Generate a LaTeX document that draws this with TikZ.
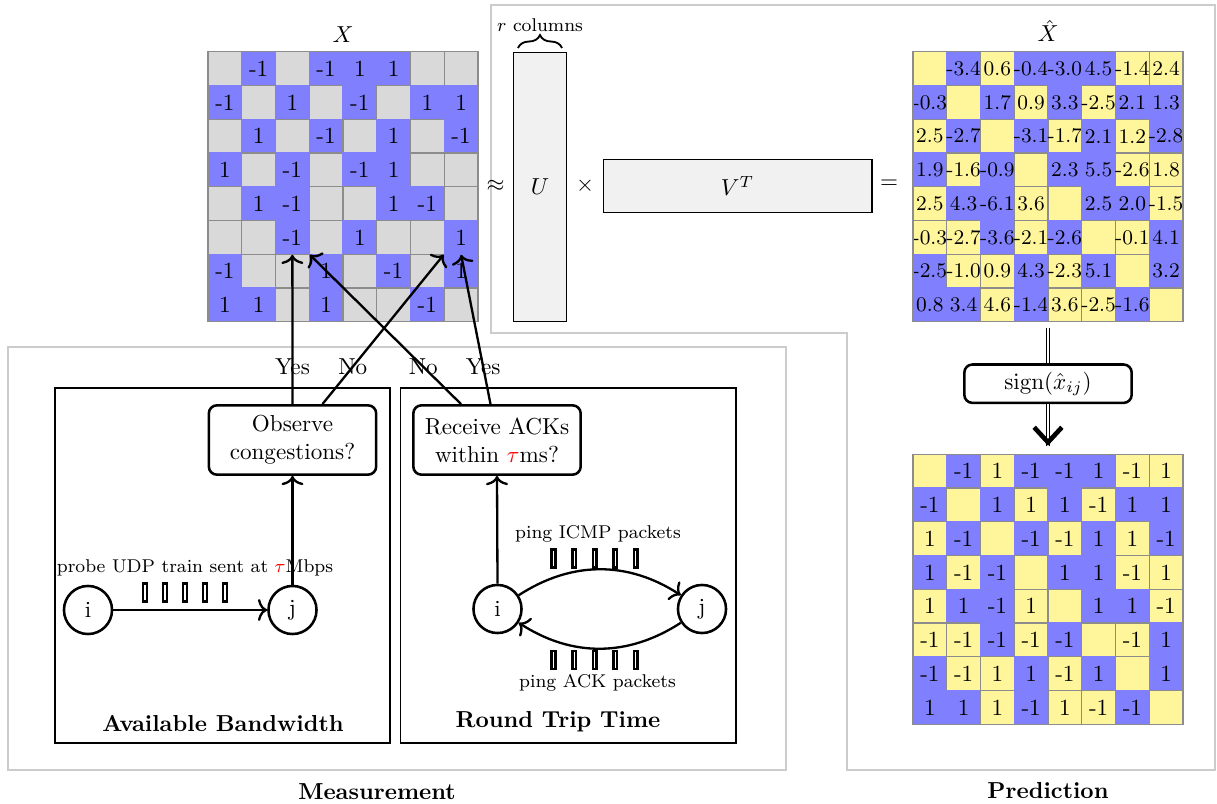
\documentclass[tikz,border=0pt]{standalone}
\usetikzlibrary{matrix,calc,decorations.pathreplacing,arrows.meta}
\definecolor{cblue}{RGB}{128,128,255}
\definecolor{cgray}{RGB}{217,217,217}
\definecolor{cyel}{RGB}{255,246,155}
\definecolor{framec}{RGB}{204,204,204}
\definecolor{ufill}{RGB}{241,241,241}
\definecolor{cellline}{RGB}{140,140,140}
\tikzset{
  cell/.style={minimum size=15.1pt, inner sep=0pt, outer sep=0pt, anchor=center, fill=cblue,
    execute at begin node={\hbox to 0pt\bgroup\hss}, execute at end node={\hss\egroup}},
  cG/.style={minimum size=14.6pt, fill=cgray, draw=cellline, line width=0.5pt},
  cY/.style={minimum size=14.6pt, fill=cyel, draw=cellline, line width=0.5pt},
  mat/.style={matrix of nodes, nodes in empty cells, inner sep=0pt, outer sep=0pt,
    column sep=-0.5pt, row sep=-0.5pt, anchor=center},
  dbox/.style={draw, line width=1.1pt, rounded corners=3.5pt, minimum width=72.4pt,
    minimum height=30pt, align=center, inner sep=2pt, fill=white},
  vtx/.style={circle, draw, line width=1.1pt, minimum size=20.8pt, inner sep=0pt, fill=white},
  conn/.style={line width=1pt, -{To[length=4pt, width=9.5pt]}},
  packet/.style={draw, line width=1.1pt, minimum width=1.6pt, minimum height=7.8pt, inner sep=0pt},
  framebox/.style={draw=framec, line width=0.6pt},
  subbox/.style={draw=black, line width=0.5pt},
  fac/.style={draw, fill=ufill, line width=0.5pt, inner sep=0pt},
  dbl/.style={double, line width=0.45pt, double distance=0.8pt},
  lab/.style={font=\footnotesize},
}
\begin{document}
\begin{tikzpicture}[x=0.4326pt, y=-0.4326pt]
\useasboundingbox (0,0) rectangle (1217,804);

% frames
\draw[framebox] (8,347) rectangle (786,770);
\draw[framebox] (491,5) -- (1215,5) -- (1215,770) -- (847,770) -- (847,333) -- (491,333) -- cycle;
\draw[subbox] (55,388) rectangle (390,743);
\draw[subbox] (400.5,388) rectangle (736,743);

% X matrix
\matrix[mat, nodes={cell}] (mX) at (343,186.7) {
|[cG]| & -1 & |[cG]| & -1 & 1 & 1 & |[cG]| & |[cG]| \\
-1 & |[cG]| & 1 & |[cG]| & -1 & |[cG]| & 1 & 1 \\
|[cG]| & 1 & |[cG]| & -1 & |[cG]| & 1 & |[cG]| & -1 \\
1 & |[cG]| & -1 & |[cG]| & -1 & 1 & |[cG]| & |[cG]| \\
|[cG]| & 1 & -1 & |[cG]| & |[cG]| & 1 & -1 & |[cG]| \\
|[cG]| & |[cG]| & -1 & |[cG]| & 1 & |[cG]| & |[cG]| & 1 \\
-1 & |[cG]| & |[cG]| & 1 & |[cG]| & -1 & |[cG]| & 1 \\
1 & 1 & |[cG]| & 1 & |[cG]| & |[cG]| & -1 & |[cG]| \\
};
\draw[cellline, line width=0.6pt] ($(mX.south west)+(0.6,-0.6)$) rectangle ($(mX.north east)+(-0.6,0.6)$);
\node (xlab) at (343,35) {$X$};

% X hat matrix
\matrix[mat, nodes={cell, font=\small}] (mXh) at (1048,186.7) {
|[cY]| & -3.4 & |[cY]|0.6 & -0.4 & -3.0 & 4.5 & |[cY]|-1.4 & |[cY]|2.4 \\
-0.3 & |[cY]| & 1.7 & |[cY]|0.9 & 3.3 & |[cY]|-2.5 & 2.1 & 1.3 \\
|[cY]|2.5 & -2.7 & |[cY]| & -3.1 & |[cY]|-1.7 & 2.1 & |[cY]|1.2 & -2.8 \\
1.9 & |[cY]|-1.6 & -0.9 & |[cY]| & 2.3 & 5.5 & |[cY]|-2.6 & |[cY]|1.8 \\
|[cY]|2.5 & 4.3 & -6.1 & |[cY]|3.6 & |[cY]| & 2.5 & 2.0 & |[cY]|-1.5 \\
|[cY]|-0.3 & |[cY]|-2.7 & -3.6 & |[cY]|-2.1 & -2.6 & |[cY]| & |[cY]|-0.1 & 4.1 \\
-2.5 & |[cY]|-1.0 & |[cY]|0.9 & 4.3 & |[cY]|-2.3 & 5.1 & |[cY]| & 3.2 \\
0.8 & 3.4 & |[cY]|4.6 & -1.4 & |[cY]|3.6 & |[cY]|-2.5 & -1.6 & |[cY]| \\
};
\draw[cellline, line width=0.6pt] ($(mXh.south west)+(0.6,-0.6)$) rectangle ($(mXh.north east)+(-0.6,0.6)$);
\node (xhlab) at (1048,31) {$\hat{X}$};

% Prediction matrix
\matrix[mat, nodes={cell}] (mP) at (1048,589.3) {
|[cY]| & -1 & |[cY]|1 & -1 & -1 & 1 & |[cY]|-1 & |[cY]|1 \\
-1 & |[cY]| & 1 & |[cY]|1 & 1 & |[cY]|-1 & 1 & 1 \\
|[cY]|1 & -1 & |[cY]| & -1 & |[cY]|-1 & 1 & |[cY]|1 & -1 \\
1 & |[cY]|-1 & -1 & |[cY]| & 1 & 1 & |[cY]|-1 & |[cY]|1 \\
|[cY]|1 & 1 & -1 & |[cY]|1 & |[cY]| & 1 & 1 & |[cY]|-1 \\
|[cY]|-1 & |[cY]|-1 & -1 & |[cY]|-1 & -1 & |[cY]| & |[cY]|-1 & 1 \\
-1 & |[cY]|-1 & |[cY]|1 & 1 & |[cY]|-1 & 1 & |[cY]| & 1 \\
1 & 1 & |[cY]|1 & -1 & |[cY]|1 & |[cY]|-1 & -1 & |[cY]| \\
};
\draw[cellline, line width=0.6pt] ($(mP.south west)+(0.6,-0.6)$) rectangle ($(mP.north east)+(-0.6,0.6)$);

% factorisation
\node (approx) at (495.7,186) {$\approx$};
\node[fac, minimum width=22.9pt, minimum height=116.3pt] (U) at (540,186.7) {$U$};
\node (times) at (585,186) {$\times$};
\node[fac, minimum width=116.3pt, minimum height=22.9pt] (V) at (737.5,186) {$V^T$};
\node (eq) at (889,184) {$=$};
\draw[decorate, decoration={brace, amplitude=5.6pt}, line width=0.8pt] (518,48) -- (562,48);
\node[lab] (rcol) at (540,25) {$r$ columns};

% sign step
\node[dbox, minimum height=16.6pt, inner sep=1pt] (sg) at (1048,383.7) {$\mathrm{sign}(\hat{x}_{ij})$};
\coordinate (dtop) at ($(mXh.south)+(0,6)$);
\coordinate (atip) at ($(mP.north)+(0,-8)$);
\draw[dbl] (dtop) -- (sg.north);
\draw[dbl] (sg.south) -- (atip);
\draw[line width=2pt, -{Straight Barb[length=6.5pt, width=12pt]}] ($(atip)+(0,-3)$) -- (atip);

% measurement: available bandwidth
\node[dbox] (obs) at (292.5,440) {Observe\\congestions?};
\node[vtx] (li) at (88,610) {i};
\node[vtx] (lj) at (292.5,610) {j};
\node[lab] (probe) at (195,568) {probe UDP train sent at {\color{red}$\tau$}Mbps};
\foreach \k in {0,...,4} {
  \node[packet] (pa\k) at (145+20*\k,592.5) {};
}
\draw[conn] (li) -- (lj);
\draw[conn] (lj.north) -- (obs.south);
\node[font=\bfseries] (abw) at (223,723) {Available Bandwidth};

% measurement: round trip time
\node[dbox] (rec) at (497,440) {Receive ACKs\\within {\color{red}$\tau$}ms?};
\node[vtx] (ri) at (497.5,609) {i};
\node[vtx] (rj) at (702,609) {j};
\node[lab] (icmp) at (598,534) {ping ICMP packets};
\node[lab] (ack) at (597.5,683) {ping ACK packets};
\foreach \k in {0,...,4} {
  \node[packet] (pb\k) at (553.5+20.6*\k,558.3) {};
  \node[packet] (pc\k) at (553.5+20.6*\k,660) {};
}
\draw[conn] (ri.north) -- (rec.south);
\draw[conn] (ri) to[bend left=33] (rj);
\draw[conn] (rj) to[bend left=33] (ri);
\node[font=\bfseries] (rtt) at (558,722) {Round Trip Time};

% decisions to matrix
\draw[conn] (obs.north) -- node[pos=0.25] (y1) {Yes} (mX-6-3.south);
\draw[conn] ($(obs.north)+(30,0)$) -- node[pos=0.25] (n1) {No} (mX-6-8.south west);
\draw[conn] ($(rec.north)+(-36,0)$) -- node[pos=0.25] (n2) {No} (mX-6-3.south east);
\draw[conn] ($(rec.north)+(-6.5,0)$) -- node[pos=0.25] (y2) {Yes} (mX-6-8.south);

% titles
\node[font=\bfseries] (meas) at (377,792) {Measurement};
\node[font=\bfseries] (pred) at (1048,791) {Prediction};
\end{tikzpicture}
\end{document}
